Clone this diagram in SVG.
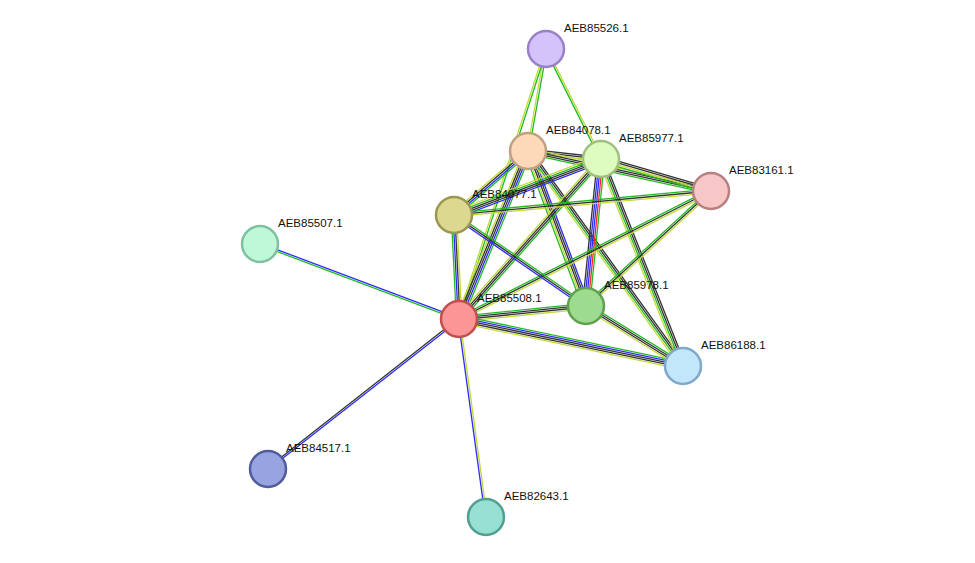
<svg xmlns="http://www.w3.org/2000/svg" width="975" height="563" viewBox="0 0 975 563">
<style>
line{stroke-width:1.3}
.g{stroke:#22bb22}.y{stroke:#c2d93a}.k{stroke:#333}.b{stroke:#2b2bff}.r{stroke:#ff2222}
circle{stroke-width:2.5}
text{font-family:"Liberation Sans",Arial,sans-serif;font-size:11.5px;fill:#111}
</style>
<rect width="975" height="563" fill="#fff"/>
<g id="edges">
<g transform="translate(546,49) rotate(100)"><line class="g" x1="0" x2="103.6" y1="-0.9" y2="-0.9"/><line class="y" x1="0" x2="103.6" y1="0.9" y2="0.9"/></g>
<g transform="translate(546,49) rotate(107.9)"><line class="g" x1="0" x2="283.7" y1="-0.9" y2="-0.9"/><line class="y" x1="0" x2="283.7" y1="0.9" y2="0.9"/></g>
<g transform="translate(546,49) rotate(63.4)"><line class="y" x1="0" x2="123" y1="-0.9" y2="-0.9"/><line class="g" x1="0" x2="123" y1="0.9" y2="0.9"/></g>
<g transform="translate(528,151) rotate(6.3)"><line class="k" x1="0" x2="73.4" y1="-1.8" y2="-1.8"/><line class="k" x1="0" x2="73.4" y1="0" y2="0"/><line class="y" x1="0" x2="73.4" y1="1.8" y2="1.8"/></g>
<g transform="translate(528,151) rotate(12.3)"><line class="y" x1="0" x2="187.3" y1="-2.7" y2="-2.7"/><line class="k" x1="0" x2="187.3" y1="-0.9" y2="-0.9"/><line class="k" x1="0" x2="187.3" y1="0.9" y2="0.9"/><line class="g" x1="0" x2="187.3" y1="2.7" y2="2.7"/></g>
<g transform="translate(528,151) rotate(139.1)"><line class="g" x1="0" x2="97.8" y1="-2.7" y2="-2.7"/><line class="b" x1="0" x2="97.8" y1="-0.9" y2="-0.9"/><line class="k" x1="0" x2="97.8" y1="0.9" y2="0.9"/><line class="y" x1="0" x2="97.8" y1="2.7" y2="2.7"/></g>
<g transform="translate(528,151) rotate(112.3)"><line class="g" x1="0" x2="181.6" y1="-3.6" y2="-3.6"/><line class="b" x1="0" x2="181.6" y1="-1.8" y2="-1.8"/><line class="k" x1="0" x2="181.6" y1="0" y2="0"/><line class="k" x1="0" x2="181.6" y1="1.8" y2="1.8"/><line class="y" x1="0" x2="181.6" y1="3.6" y2="3.6"/></g>
<g transform="translate(528,151) rotate(69.5)"><line class="b" x1="0" x2="165.5" y1="-3.6" y2="-3.6"/><line class="k" x1="0" x2="165.5" y1="-1.8" y2="-1.8"/><line class="k" x1="0" x2="165.5" y1="0" y2="0"/><line class="y" x1="0" x2="165.5" y1="1.8" y2="1.8"/><line class="g" x1="0" x2="165.5" y1="3.6" y2="3.6"/></g>
<g transform="translate(528,151) rotate(54.2)"><line class="k" x1="0" x2="265" y1="-2.7" y2="-2.7"/><line class="k" x1="0" x2="265" y1="-0.9" y2="-0.9"/><line class="g" x1="0" x2="265" y1="0.9" y2="0.9"/><line class="y" x1="0" x2="265" y1="2.7" y2="2.7"/></g>
<g transform="translate(601,159) rotate(16.2)"><line class="k" x1="0" x2="114.6" y1="-2.7" y2="-2.7"/><line class="k" x1="0" x2="114.6" y1="-0.9" y2="-0.9"/><line class="y" x1="0" x2="114.6" y1="0.9" y2="0.9"/><line class="g" x1="0" x2="114.6" y1="2.7" y2="2.7"/></g>
<g transform="translate(601,159) rotate(159.1)"><line class="b" x1="0" x2="157.3" y1="-3.6" y2="-3.6"/><line class="k" x1="0" x2="157.3" y1="-1.8" y2="-1.8"/><line class="k" x1="0" x2="157.3" y1="0" y2="0"/><line class="g" x1="0" x2="157.3" y1="1.8" y2="1.8"/><line class="y" x1="0" x2="157.3" y1="3.6" y2="3.6"/></g>
<g transform="translate(601,159) rotate(131.6)"><line class="g" x1="0" x2="213.9" y1="-2.7" y2="-2.7"/><line class="k" x1="0" x2="213.9" y1="-0.9" y2="-0.9"/><line class="k" x1="0" x2="213.9" y1="0.9" y2="0.9"/><line class="y" x1="0" x2="213.9" y1="2.7" y2="2.7"/></g>
<g transform="translate(601,159) rotate(95.8)"><line class="g" x1="0" x2="147.8" y1="-3.6" y2="-3.6"/><line class="r" x1="0" x2="147.8" y1="-1.8" y2="-1.8"/><line class="b" x1="0" x2="147.8" y1="0" y2="0"/><line class="b" x1="0" x2="147.8" y1="1.8" y2="1.8"/><line class="k" x1="0" x2="147.8" y1="3.6" y2="3.6"/></g>
<g transform="translate(601,159) rotate(68.4)"><line class="k" x1="0" x2="222.6" y1="-2.7" y2="-2.7"/><line class="k" x1="0" x2="222.6" y1="-0.9" y2="-0.9"/><line class="g" x1="0" x2="222.6" y1="0.9" y2="0.9"/><line class="y" x1="0" x2="222.6" y1="2.7" y2="2.7"/></g>
<g transform="translate(711,191) rotate(174.7)"><line class="y" x1="0" x2="258.1" y1="-1.8" y2="-1.8"/><line class="k" x1="0" x2="258.1" y1="0" y2="0"/><line class="g" x1="0" x2="258.1" y1="1.8" y2="1.8"/></g>
<g transform="translate(711,191) rotate(153.1)"><line class="y" x1="0" x2="282.6" y1="-1.8" y2="-1.8"/><line class="k" x1="0" x2="282.6" y1="0" y2="0"/><line class="g" x1="0" x2="282.6" y1="1.8" y2="1.8"/></g>
<g transform="translate(711,191) rotate(137.4)"><line class="y" x1="0" x2="169.9" y1="-1.8" y2="-1.8"/><line class="k" x1="0" x2="169.9" y1="0" y2="0"/><line class="g" x1="0" x2="169.9" y1="1.8" y2="1.8"/></g>
<g transform="translate(454,215) rotate(87.2)"><line class="y" x1="0" x2="104.1" y1="-2.7" y2="-2.7"/><line class="k" x1="0" x2="104.1" y1="-0.9" y2="-0.9"/><line class="b" x1="0" x2="104.1" y1="0.9" y2="0.9"/><line class="g" x1="0" x2="104.1" y1="2.7" y2="2.7"/></g>
<g transform="translate(454,215) rotate(34.6)"><line class="g" x1="0" x2="160.3" y1="-1.8" y2="-1.8"/><line class="k" x1="0" x2="160.3" y1="0" y2="0"/><line class="b" x1="0" x2="160.3" y1="1.8" y2="1.8"/></g>
<g transform="translate(459,319) rotate(-5.8)"><line class="g" x1="0" x2="127.7" y1="-2.7" y2="-2.7"/><line class="k" x1="0" x2="127.7" y1="-0.9" y2="-0.9"/><line class="k" x1="0" x2="127.7" y1="0.9" y2="0.9"/><line class="y" x1="0" x2="127.7" y1="2.7" y2="2.7"/></g>
<g transform="translate(459,319) rotate(11.8)"><line class="g" x1="0" x2="228.9" y1="-3.6" y2="-3.6"/><line class="b" x1="0" x2="228.9" y1="-1.8" y2="-1.8"/><line class="k" x1="0" x2="228.9" y1="0" y2="0"/><line class="k" x1="0" x2="228.9" y1="1.8" y2="1.8"/><line class="y" x1="0" x2="228.9" y1="3.6" y2="3.6"/></g>
<g transform="translate(586,306) rotate(31.7)"><line class="g" x1="0" x2="114.1" y1="-2.7" y2="-2.7"/><line class="k" x1="0" x2="114.1" y1="-0.9" y2="-0.9"/><line class="k" x1="0" x2="114.1" y1="0.9" y2="0.9"/><line class="y" x1="0" x2="114.1" y1="2.7" y2="2.7"/></g>
<g transform="translate(459,319) rotate(200.6)"><line class="g" x1="0" x2="212.7" y1="-0.9" y2="-0.9"/><line class="b" x1="0" x2="212.7" y1="0.9" y2="0.9"/></g>
<g transform="translate(459,319) rotate(141.9)"><line class="b" x1="0" x2="242.9" y1="-0.9" y2="-0.9"/><line class="k" x1="0" x2="242.9" y1="0.9" y2="0.9"/></g>
<g transform="translate(459,319) rotate(82.2)"><line class="y" x1="0" x2="199.8" y1="-0.9" y2="-0.9"/><line class="b" x1="0" x2="199.8" y1="0.9" y2="0.9"/></g>
</g>
<g id="n85526"><circle cx="546" cy="49" r="18" fill="#d4c2fb" stroke="#9a80c8"/><text x="564" y="32">AEB85526.1</text></g>
<g id="n84078"><circle cx="528" cy="151" r="18" fill="#fdd9b9" stroke="#c0a080"/><text x="546" y="134">AEB84078.1</text></g>
<g id="n85977"><circle cx="601" cy="159" r="18" fill="#dffcc0" stroke="#a0c080"/><text x="619" y="142">AEB85977.1</text></g>
<g id="n83161"><circle cx="711" cy="191" r="18" fill="#f7c6c6" stroke="#b88080"/><text x="729" y="174">AEB83161.1</text></g>
<g id="n84077"><circle cx="454" cy="215" r="18" fill="#dcd890" stroke="#9a9850"/><text x="472" y="198">AEB84077.1</text></g>
<g id="n85507"><circle cx="260" cy="244" r="18" fill="#bff8d8" stroke="#7fc0a0"/><text x="278" y="227">AEB85507.1</text></g>
<g id="n85508"><circle cx="459" cy="319" r="18" fill="#fc9595" stroke="#c05050"/><text x="477" y="302">AEB85508.1</text></g>
<g id="n85978"><circle cx="586" cy="306" r="18" fill="#9ddc8e" stroke="#60a050"/><text x="604" y="289">AEB85978.1</text></g>
<g id="n86188"><circle cx="683" cy="366" r="18" fill="#c2e6fa" stroke="#80a8c8"/><text x="701" y="349">AEB86188.1</text></g>
<g id="n84517"><circle cx="268" cy="469" r="18" fill="#98a4e0" stroke="#505c9c"/><text x="286" y="452">AEB84517.1</text></g>
<g id="n82643"><circle cx="486" cy="517" r="18" fill="#98e0d4" stroke="#50a090"/><text x="504" y="500">AEB82643.1</text></g>
</svg>
